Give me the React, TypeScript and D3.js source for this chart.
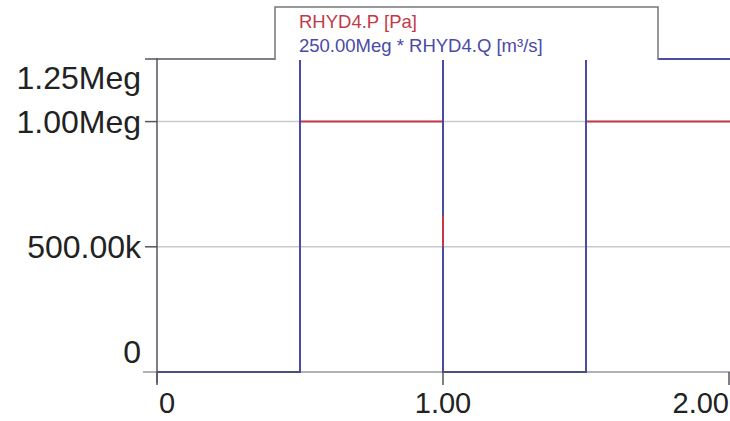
import React from "react";
import * as d3 from "d3";

const W = 730;
const H = 421;

// Time axis (s)
const timeP = [0, 0.5, 0.5, 1.0, 1.0, 1.5, 1.5, 2.05];
const pressure = [0, 0, 1.0e6, 1.0e6, 0, 0, 1.0e6, 1.0e6];
const timeQ = [0, 0.5, 0.5, 1.0, 1.0, 1.5, 1.5, 2.05];
const flowScaled = [0, 0, 1.25e6, 1.25e6, 0, 0, 1.25e6, 1.25e6];
const spikeTime = [1.0, 1.0];
const spikeP = [500e3, 625e3];

const yTicks = [0, 500e3, 1.0e6, 1.25e6];
const yTickLabels = ["0", "500.00k", "1.00Meg", "1.25Meg"];
const yGrid = [500e3, 1.0e6];
const xTicks = [0, 1, 2];
const xTickLabels = ["0", "1.00", "2.00"];

const legendLabels = ["RHYD4.P [Pa]", "250.00Meg * RHYD4.Q [m\u00B3/s]"];

const RED = "#c23a48";
const BLUE = "#4a4aa8";
const AXIS = "#55555f";
const GRID = "#c9c9c9";
const FONT = "'Liberation Sans', Arial, sans-serif";

export default function App() {
  const left = 157;
  const right = 729;
  const top = 59;
  const bottom = 372;

  const x = d3.scaleLinear().domain([0, 2]).range([left, right]);
  const y = d3.scaleLinear().domain([0, 1.25e6]).range([bottom, top]);

  const lineP = d3
    .line<number>()
    .x((_, i) => x(timeP[i]))
    .y((d) => y(d));
  const lineQ = d3
    .line<number>()
    .x((_, i) => x(timeQ[i]))
    .y((d) => y(d));
  const lineS = d3
    .line<number>()
    .x((_, i) => x(spikeTime[i]))
    .y((d) => y(d));

  return (
    <div style={{ position: "fixed", left: 0, top: 0, width: W, height: H, background: "#fff" }}>
      <svg width={W} height={H} style={{ display: "block" }}>
        <defs>
          <clipPath id="plot">
            <rect x={left} y={top - 1} width={W - left} height={bottom - top + 2} />
          </clipPath>
        </defs>
        <rect x={0} y={0} width={W} height={H} fill="#fff" />
        {/* grid */}
        {yGrid.map((v) => (
          <line key={v} x1={left} x2={W} y1={y(v)} y2={y(v)} stroke={GRID} strokeWidth={1.5} />
        ))}
        {/* top border */}
        <line x1={left} x2={W} y1={top} y2={top} stroke={AXIS} strokeWidth={1.5} />
        {/* series */}
        <g clipPath="url(#plot)">
          <path d={lineP(pressure) || ""} fill="none" stroke={RED} strokeWidth={2} />
          <path d={lineQ(flowScaled) || ""} fill="none" stroke={BLUE} strokeWidth={2} />
          <path d={lineS(spikeP) || ""} fill="none" stroke={RED} strokeWidth={2} />
        </g>
        {/* axes */}
        <line x1={left} x2={left} y1={top - 1} y2={bottom + 11} stroke={AXIS} strokeWidth={1.5} />
        <line x1={left - 14} x2={W} y1={bottom} y2={bottom} stroke={AXIS} strokeWidth={1.5} opacity={0.6} />
        {yTicks.map((v, i) => {
          const yy = y(v);
          const ly = Math.max(top + 19, Math.min(bottom - 20, yy));
          return (
            <g key={"y" + i}>
              {v !== 0 && (
                <line x1={left - 12} x2={left} y1={yy} y2={yy} stroke={AXIS} strokeWidth={1.5} />
              )}
              <text
                x={141}
                y={ly}
                textAnchor="end"
                dominantBaseline="central"
                fontFamily={FONT}
                fontSize={32}
                fill="#222"
              >
                {yTickLabels[i]}
              </text>
            </g>
          );
        })}
        {xTicks.map((v, i) => {
          const xx = x(v);
          const anchor = i === 0 ? "start" : i === xTicks.length - 1 ? "end" : "middle";
          const lx = i === 0 ? xx + 2 : xx;
          return (
            <g key={"x" + i}>
              <line x1={xx} x2={xx} y1={bottom} y2={bottom + 13} stroke={AXIS} strokeWidth={1.5} />
              <text
                x={lx}
                y={413}
                textAnchor={anchor}
                fontFamily={FONT}
                fontSize={29}
                fill="#222"
              >
                {xTickLabels[i]}
              </text>
            </g>
          );
        })}
        {/* legend */}
        <rect x={275} y={7} width={383} height={53} fill="#fff" stroke="none" />
        <path d="M275,60 L275,7 L658,7 L658,60" fill="none" stroke="#777" strokeWidth={1.5} />
        <text x={299} y={28} fontFamily={FONT} fontSize={18.5} fill={RED}>
          {legendLabels[0]}
        </text>
        <text x={299} y={52} fontFamily={FONT} fontSize={18.5} fill={BLUE}>
          {legendLabels[1]}
        </text>
      </svg>
    </div>
  );
}
